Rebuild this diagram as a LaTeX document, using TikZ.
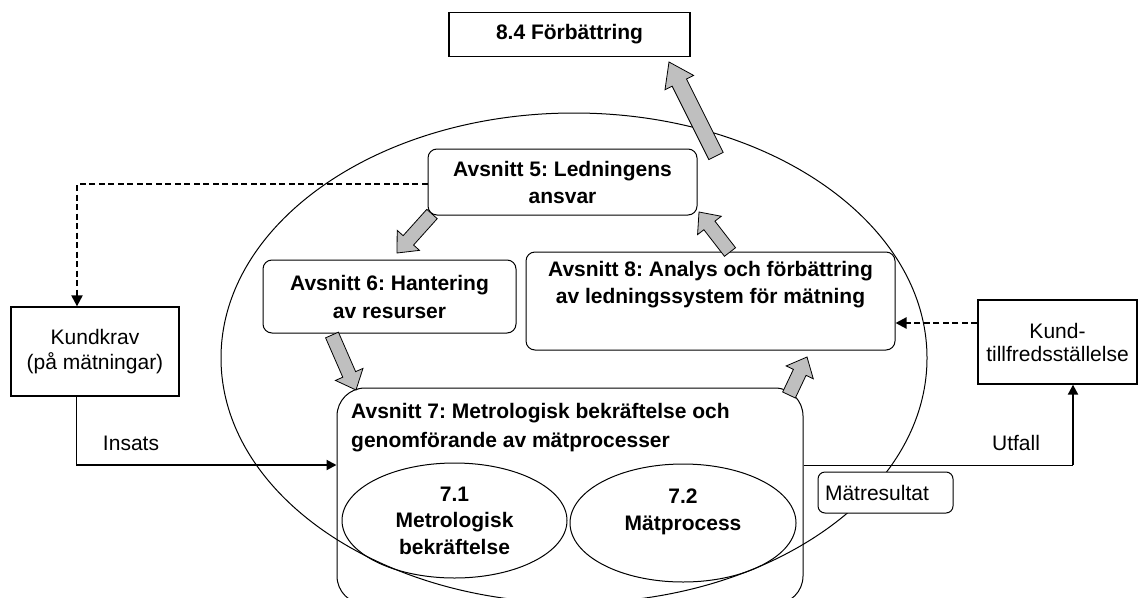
\documentclass[tikz,border=0pt]{standalone}
\usepackage{fontspec}
\setmainfont{Liberation Sans}
\usetikzlibrary{arrows.meta,calc,shapes.geometric}
\frenchspacing
\newcommand{\garrow}[5]{%
  \path ($(#2)!#5!(#1)$) coordinate (gn);
  \filldraw[gfill] ($(#1)!#3!90:(#2)$) -- ($(gn)!#3!90:(#2)$) -- ($(gn)!#4!90:(#2)$) -- (#2) -- ($(gn)!#4!-90:(#2)$) -- ($(gn)!#3!-90:(#2)$) -- ($(#1)!#3!-90:(#2)$) -- cycle;}
\tikzset{
  every node/.style={font=\fontsize{21}{27}\selectfont, inner sep=0pt},
  bx/.style={draw, line width=1.3pt},
  rbox/.style={draw, line width=1pt, rounded corners=9pt, align=center, font=\bfseries\fontsize{21}{27}\selectfont},
  gfill/.style={fill=black!25, draw=black, line width=0.8pt, line join=miter},
  dsh/.style={line width=2.2pt, dash pattern=on 6pt off 3.5pt, -{Triangle[length=11pt,width=11pt]}},
  thk/.style={line width=2pt, -{Triangle[length=10pt,width=10pt]}},
  thn/.style={line width=1pt},
  ell/.style={ellipse, draw, line width=1pt, align=center, font=\bfseries\fontsize{21}{26.5}\selectfont}
}
\begin{document}
\begin{tikzpicture}[x=1pt,y=-1pt]
\useasboundingbox (0,0) rectangle (1139,597);
\clip (0,0) rectangle (1139,597);
% big ellipse
\draw[line width=1pt] (574,358) ellipse [x radius=353, y radius=245];
% boxes
\node[bx, font=\bfseries\fontsize{21}{27}\selectfont, minimum width=241pt, minimum height=44pt] (b84) at (569.5,34.5) {8.4 Förbättring};
\node[rbox, minimum width=269pt, minimum height=66pt] (b5) at (562.5,182) {Avsnitt 5: Ledningens\\ansvar};
\node[rbox, minimum width=253pt, minimum height=73pt, font=\bfseries\fontsize{21}{28}\selectfont] (b6) at (389.5,296.5) {Avsnitt 6: Hantering\\av resurser};
\node[rbox, minimum width=369pt, minimum height=98pt] (b8) at (710.5,301) {};
\node[font=\bfseries\fontsize{21}{27}\selectfont, align=center] (t8) at (710.5,284.5) {Avsnitt 8: Analys och förbättring\\av ledningssystem för mätning};
\node[rbox, rounded corners=28pt, minimum width=466pt, minimum height=216pt] (b7) at (570,496) {};
\node[font=\bfseries\fontsize{21}{29}\selectfont, align=left, anchor=west] (t7) at (351,427.5) {Avsnitt 7: Metrologisk bekräftelse och\\genomförande av mätprocesser};
\node[ell, minimum width=225pt, minimum height=115pt] (e71) at (454.5,520.5) {7.1\\Metrologisk\\bekräftelse};
\node[ell, minimum width=226pt, minimum height=118pt] (e72) at (683,523) {7.2\\Mätprocess\\\mbox{}};
\node[bx, minimum width=168pt, minimum height=89pt, align=center, font=\fontsize{21}{25}\selectfont] (kk) at (95,351.5) {Kundkrav\\(på mätningar)};
\node[bx, minimum width=159pt, minimum height=84pt, align=center, font=\fontsize{21}{23}\selectfont] (ks) at (1057.5,342) {Kund-\\tillfredsställelse};
% labels
\node (insl) at (131,443) {Insats};
\node (utfl) at (1016,443) {Utfall};
% connectors
\coordinate (ins) at (76,465);
\coordinate (utf) at (1073,465);
\coordinate (dk) at (77,184);
\coordinate (dr) at (937,323);
\draw[thn] (kk.south -| ins) -- (ins);
\draw[thk] (ins) -- (b7.west |- ins);
\draw[thn] (b7.east |- utf) -- (utf);
\draw[thk] ([yshift=0.5pt]utf) -- (ks.south -| utf);
\draw[dsh] (b5.west |- dk) -- (dk) -- (kk.north -| dk);
\draw[dsh] (ks.west |- dr) -- (b8.east |- dr);
% result box
\node[draw, line width=1pt, rounded corners=7pt, fill=white, minimum width=135pt, minimum height=41pt, text width=121pt, align=left] (mr) at (885.5,492.5) {Mätresultat};
% gray arrows
\coordinate (g1a) at (716,156); \coordinate (g1b) at (669,62);
\coordinate (g2a) at (432,214); \coordinate (g2b) at (397,253);
\coordinate (g3a) at (332,335); \coordinate (g3b) at (356,390);
\coordinate (g4a) at (730,252); \coordinate (g4b) at (699,212);
\coordinate (g5a) at (789,395); \coordinate (g5b) at (807,357);
\garrow{g1a}{g1b}{8pt}{16pt}{23pt}
\garrow{g2a}{g2b}{7pt}{15pt}{17pt}
\garrow{g3a}{g3b}{7pt}{15pt}{17pt}
\garrow{g4a}{g4b}{7pt}{15pt}{17pt}
\garrow{g5a}{g5b}{7pt}{15pt}{17pt}
\end{tikzpicture}
\end{document}
